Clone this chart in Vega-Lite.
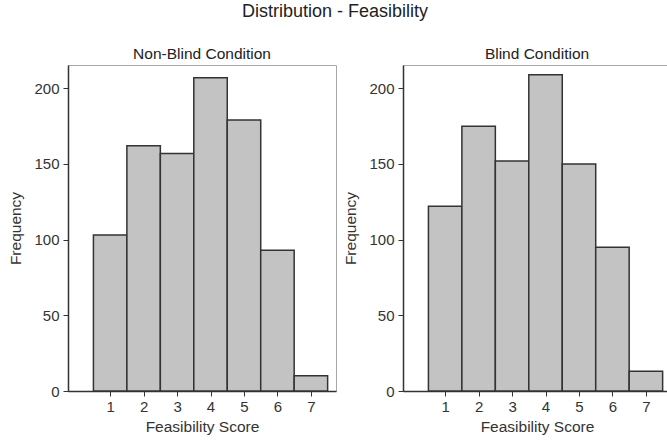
{
  "$schema": "https://vega.github.io/schema/vega-lite/v6.json",
  "padding": {"left": 8, "top": 2, "right": 0, "bottom": 0},
  "title": {"text": "Distribution - Feasibility", "anchor": "middle", "fontSize": 18, "font": "Liberation Sans", "fontWeight": "normal", "color": "#222", "offset": 26, "dx": -5},
  "data": {"values": [
    {"condition": "Non-Blind Condition", "score": 1, "bin_start": 0.5, "bin_end": 1.5, "frequency": 103},
    {"condition": "Non-Blind Condition", "score": 2, "bin_start": 1.5, "bin_end": 2.5, "frequency": 162},
    {"condition": "Non-Blind Condition", "score": 3, "bin_start": 2.5, "bin_end": 3.5, "frequency": 157},
    {"condition": "Non-Blind Condition", "score": 4, "bin_start": 3.5, "bin_end": 4.5, "frequency": 207},
    {"condition": "Non-Blind Condition", "score": 5, "bin_start": 4.5, "bin_end": 5.5, "frequency": 179},
    {"condition": "Non-Blind Condition", "score": 6, "bin_start": 5.5, "bin_end": 6.5, "frequency": 93},
    {"condition": "Non-Blind Condition", "score": 7, "bin_start": 6.5, "bin_end": 7.5, "frequency": 10},
    {"condition": "Blind Condition", "score": 1, "bin_start": 0.5, "bin_end": 1.5, "frequency": 122},
    {"condition": "Blind Condition", "score": 2, "bin_start": 1.5, "bin_end": 2.5, "frequency": 175},
    {"condition": "Blind Condition", "score": 3, "bin_start": 2.5, "bin_end": 3.5, "frequency": 152},
    {"condition": "Blind Condition", "score": 4, "bin_start": 3.5, "bin_end": 4.5, "frequency": 209},
    {"condition": "Blind Condition", "score": 5, "bin_start": 4.5, "bin_end": 5.5, "frequency": 150},
    {"condition": "Blind Condition", "score": 6, "bin_start": 5.5, "bin_end": 6.5, "frequency": 95},
    {"condition": "Blind Condition", "score": 7, "bin_start": 6.5, "bin_end": 7.5, "frequency": 13}
  ]},
  "facet": {
    "column": {"field": "condition", "type": "nominal", "sort": ["Non-Blind Condition", "Blind Condition"],
      "header": {"title": null, "labelFontSize": 15.5, "labelFont": "Liberation Sans", "labelColor": "#222", "labelPadding": 2}}
  },
  "spacing": 6,
  "resolve": {"axis": {"y": "independent", "x": "independent"}},
  "spec": {
    "width": 268,
    "height": 326,
    "mark": {"type": "bar", "fill": "#c3c3c3", "stroke": "#333", "strokeWidth": 1.5},
    "encoding": {
      "x": {"field": "bin_start", "type": "quantitative",
        "scale": {"domain": [-0.26, 7.75], "nice": false, "zero": false},
        "axis": {"title": "Feasibility Score", "values": [1, 2, 3, 4, 5, 6, 7], "grid": false, "format": "d"}},
      "x2": {"field": "bin_end"},
      "y": {"field": "frequency", "type": "quantitative",
        "scale": {"domain": [0, 215.4], "nice": false},
        "axis": {"title": "Frequency", "values": [0, 50, 100, 150, 200], "grid": false}},
      "y2": {"datum": 0}
    }
  },
  "config": {
    "font": "Liberation Sans",
    "view": {"stroke": "#a8a8a8", "strokeWidth": 1},
    "axis": {
      "domainColor": "#333", "domainWidth": 1.5, "tickColor": "#333", "tickSize": 5, "tickWidth": 1,
      "labelFont": "Liberation Sans", "labelFontSize": 15, "labelColor": "#333", "labelPadding": 3,
      "titleFont": "Liberation Sans", "titleFontSize": 15.5, "titleFontWeight": "normal", "titleColor": "#333"
    },
    "axisX": {"titlePadding": 5},
    "axisY": {"titlePadding": 10, "labelPadding": 4}
  }
}
